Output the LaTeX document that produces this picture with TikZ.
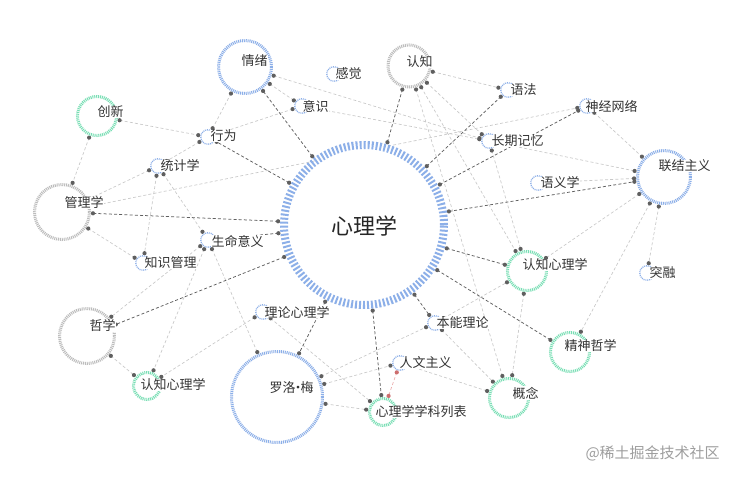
\documentclass[tikz,border=0pt]{standalone}
\usepackage{fontspec}
\setmainfont{Noto Sans CJK SC}
\usetikzlibrary{backgrounds}
\definecolor{rblue}{RGB}{140,175,232}
\definecolor{rgreen}{RGB}{120,222,180}
\definecolor{rgray}{RGB}{188,188,188}
\definecolor{txt}{RGB}{51,51,51}
\definecolor{edk}{RGB}{95,95,95}
\definecolor{elt}{RGB}{200,200,200}
\definecolor{dotc}{RGB}{95,95,95}
\definecolor{epink}{RGB}{235,170,170}
\definecolor{dpink}{RGB}{205,110,110}
\begin{document}
\begin{tikzpicture}[x=1pt,y=-1pt,
  nd/.style n args={3}{circle,fill=white,draw=#1,line width=#2,minimum size=#3,inner sep=0pt,outer sep={0.5*#2+2pt},dash pattern=on 1pt off 0.9pt},
  sm/.style={nd={rblue}{1.3pt}{14.5pt}},
  edark/.style={draw=edk,line width=0.75pt,dash pattern=on 3pt off 2.2pt},
  elight/.style={draw=elt,line width=0.65pt,dash pattern=on 3pt off 2.2pt},
  epk/.style={draw=epink,line width=0.65pt,dash pattern=on 3pt off 2.2pt},
  dotmark/.style={fill=dotc},
  lbl/.style={anchor=west,fill=white,inner sep=0.4pt,text=txt,font=\fontsize{13}{13}\selectfont}]
\useasboundingbox (0,0) rectangle (740,478);
% nodes
\node[nd={rblue}{8pt}{160pt},dash pattern=on 2pt off 2pt] (psy) at (364,225) {};
\node[nd={rblue}{3pt}{53pt}] (emo) at (245,67) {};
\node[nd={rgray}{3pt}{42pt}] (cog) at (409,66) {};
\node[nd={rgreen}{3pt}{39pt}] (inn) at (97,116) {};
\node[nd={rgray}{3pt}{55pt}] (mgmt) at (62,212) {};
\node[nd={rblue}{3pt}{53pt}] (conn) at (664,177) {};
\node[nd={rgreen}{3pt}{39pt}] (cpR) at (527,271) {};
\node[nd={rgray}{3pt}{55pt}] (phil) at (87,336) {};
\node[nd={rgreen}{3pt}{27pt}] (cpL) at (147,386) {};
\node[nd={rblue}{3pt}{91pt}] (may) at (277,397) {};
\node[nd={rgreen}{3pt}{27pt}] (list) at (383,412) {};
\node[nd={rgreen}{3pt}{39pt}] (conc) at (509,398) {};
\node[nd={rgreen}{3pt}{39pt}] (mphil) at (570,352) {};
\node[sm] (sens) at (334,74) {};
\node[sm] (gram) at (508,90) {};
\node[sm] (nn) at (587,106) {};
\node[sm] (cons) at (302,106) {};
\node[sm] (ltm) at (489,141) {};
\node[sm] (beh) at (208,137) {};
\node[sm] (stat) at (158,166) {};
\node[sm] (sem) at (538,183) {};
\node[sm] (life) at (208,240) {};
\node[sm] (km) at (143,263) {};
\node[sm] (sud) at (647,273) {};
\node[sm] (theo) at (263,312) {};
\node[sm] (inst) at (435,323) {};
\node[sm] (hum) at (400,363) {};
% edges
\begin{scope}[on background layer]
\fill[white] (0,0) rectangle (740,478);
\foreach \a/\b in {emo/cons,emo/ltm,emo/beh,cons/beh,cons/ltm,inn/beh,inn/mgmt,beh/stat,mgmt/stat,mgmt/nn,mgmt/km,stat/km,stat/life,life/phil,life/cpL,life/may,phil/cpL,theo/cpL,theo/list,may/inst,may/hum,may/list,hum/conc,inst/conc,inst/cpR,cpR/conc,cog/gram,cog/ltm,cog/cpR,cog/conc,ltm/conn,ltm/cpR,nn/conn,sem/conn,conn/cpR,conn/mphil,conn/sud}{
  \path (\a) -- (\b) coordinate[pos=0] (es) coordinate[pos=1] (ee);
  \draw[elight] (es) -- (ee);
  \fill[dotmark] (es) circle[radius=2.1pt] (ee) circle[radius=2.1pt];
}
\path (hum) -- (list) coordinate[pos=0] (ps) coordinate[pos=1] (pe);
\draw[epk] (ps) -- (pe);
\fill[dpink] (ps) circle[radius=2.1pt] (pe) circle[radius=2.1pt];
\foreach \b in {emo,beh,mgmt,life,phil,may,list,inst,cpR,mphil,conn,nn,gram,cog}{
  \path (psy) -- (\b) coordinate[pos=0] (ds) coordinate[pos=1] (de);
  \draw[edark] (ds) -- (de);
  \fill[dotmark] (ds) circle[radius=2.1pt] (de) circle[radius=2.1pt];
}
\end{scope}
% labels
\node[font=\fontsize{22}{22}\selectfont,text=black!85] (tpsy) at (364,226) {心理学};
\node[lbl] (temo) at (241,61) {情绪};
\node[lbl] (tcog) at (406,62) {认知};
\node[lbl] (tinn) at (97,112) {创新};
\node[lbl] (tmgmt) at (64,203) {管理学};
\node[lbl] (tconn) at (658,166) {联结主义};
\node[lbl] (tcpR) at (522,265) {认知心理学};
\node[lbl] (tphil) at (89,326) {哲学};
\node[lbl] (tcpL) at (140,385) {认知心理学};
\node[lbl] (tmay) at (269,388) {罗洛\kern-4pt·\kern-4pt梅};
\node[lbl] (tlist) at (375,412) {心理学学科列表};
\node[lbl] (tconc) at (512,393) {概念};
\node[lbl] (tmphil) at (564,346) {精神哲学};
\node[lbl] (tsens) at (335,74) {感觉};
\node[lbl] (tgram) at (510,90) {语法};
\node[lbl] (tnn) at (585,106) {神经网络};
\node[lbl] (tcons) at (302,106) {意识};
\node[lbl] (tltm) at (491,141) {长期记忆};
\node[lbl] (tbeh) at (210,136) {行为};
\node[lbl] (tstat) at (160,166) {统计学};
\node[lbl] (tsem) at (540,183) {语义学};
\node[lbl] (tlife) at (211,241) {生命意义};
\node[lbl] (tkm) at (144,263) {知识管理};
\node[lbl] (tsud) at (649,273) {突融};
\node[lbl] (ttheo) at (264,312) {理论心理学};
\node[lbl] (tinst) at (436,323) {本能理论};
\node[lbl] (thum) at (399,363) {人文主义};
\node[anchor=west,text=black!38,font=\fontsize{15}{15}\selectfont] (wm) at (582,453) {@稀土掘金技术社区};
\end{tikzpicture}
\end{document}
